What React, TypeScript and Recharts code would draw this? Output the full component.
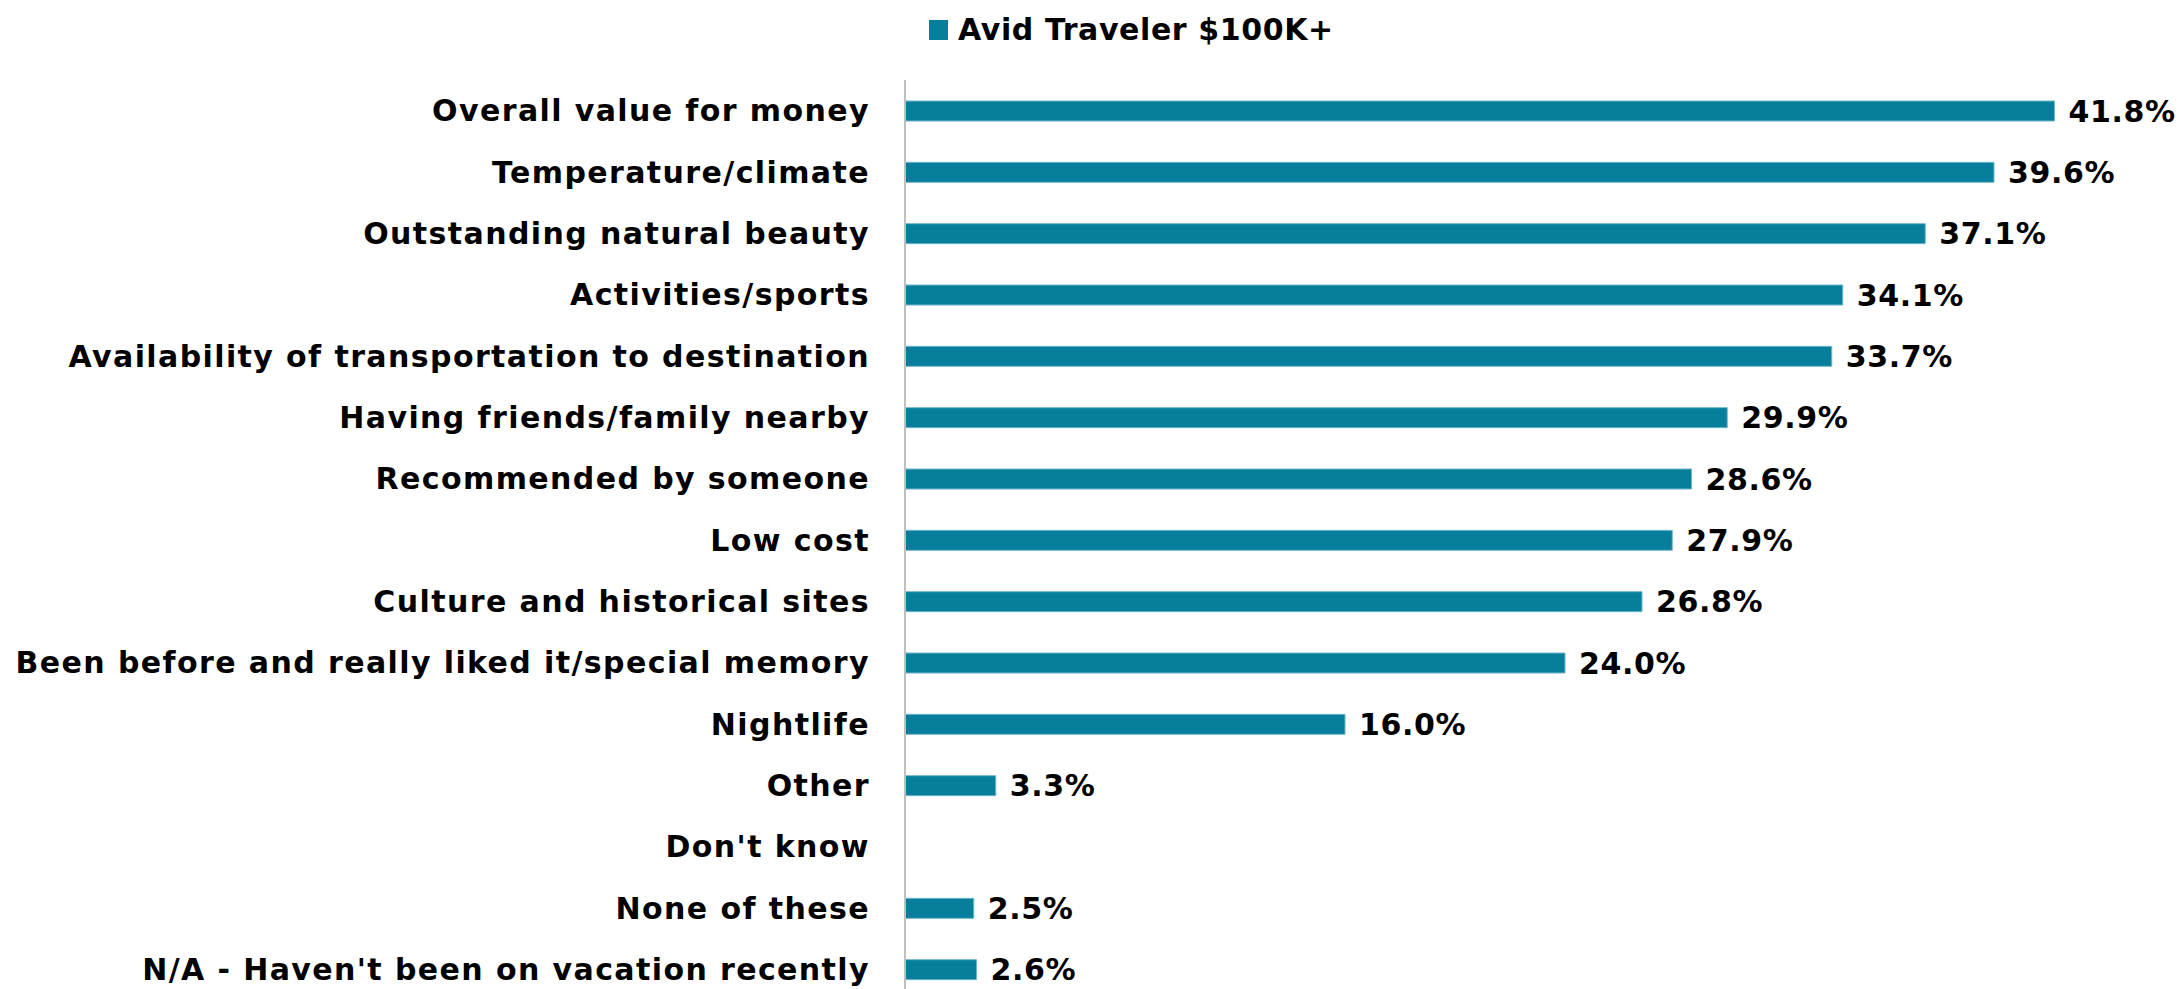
import React from 'react';
import { BarChart, Bar, XAxis, YAxis, LabelList, Legend } from 'recharts';

const categories: string[] = [
  'Overall value for money',
  'Temperature/climate',
  'Outstanding natural beauty',
  'Activities/sports',
  'Availability of transportation to destination',
  'Having friends/family nearby',
  'Recommended by someone',
  'Low cost',
  'Culture and historical sites',
  'Been before and really liked it/special memory',
  'Nightlife',
  'Other',
  "Don't know",
  'None of these',
  "N/A - Haven't been on vacation recently",
];

const values: (number | null)[] = [41.8, 39.6, 37.1, 34.1, 33.7, 29.9, 28.6, 27.9, 26.8, 24.0, 16.0, 3.3, null, 2.5, 2.6];

const seriesName = 'Avid Traveler $100K+';
const xDomain: [number, number] = [0, 45];

const data = categories.map((c, i) => ({ name: c, value: values[i] }));

const FONT = '"DejaVu Sans", sans-serif';
const BAR_COLOR = '#077f9c';
const CHART_W = 2175;
const CHART_H = 992;
const Y_AXIS_W = 897;

const CategoryTick = (props: any) => {
  const { y, payload } = props;
  return (
    <text
      x={Y_AXIS_W - 35}
      y={y}
      dy="0.36em"
      textAnchor="end"
      fontFamily={FONT}
      fontWeight="bold"
      fontSize={30}
      letterSpacing={1.4}
      fill="#000"
    >
      {payload.value}
    </text>
  );
};

const LegendContent = () => (
  <div style={{ display: 'flex', alignItems: 'center', fontFamily: FONT, fontWeight: 'bold', fontSize: 30, letterSpacing: 0.6, color: '#000', whiteSpace: 'nowrap' }}>
    <span style={{ display: 'inline-block', width: 19, height: 20, background: BAR_COLOR, marginRight: 10 }} />
    <span>{seriesName}</span>
  </div>
);

export default function App() {
  return (
    <div style={{ width: CHART_W, height: CHART_H, background: '#fff' }}>
      <BarChart
        width={CHART_W}
        height={CHART_H}
        data={data}
        layout="vertical"
        margin={{ top: 72, right: 40.5, bottom: 0, left: 0 }}
      >
        <XAxis type="number" domain={xDomain} hide allowDataOverflow />
        <YAxis
          type="category"
          dataKey="name"
          width={Y_AXIS_W}
          axisLine={{ stroke: '#bfbfbf', strokeWidth: 2 }}
          tickLine={false}
          tick={<CategoryTick />}
          interval={0}
        />
        <Legend
          layout="vertical"
          align="center"
          verticalAlign="middle"
          content={<LegendContent />}
          wrapperStyle={{ top: 4, left: 921, width: 'auto', height: 'auto', bottom: 'auto', right: 'auto' }}
        />
        <Bar
          dataKey="value"
          name={seriesName}
          fill={BAR_COLOR}
          stroke="#6fb7ca"
          strokeWidth={1}
          barSize={20}
          isAnimationActive={false}
        >
          <LabelList
            dataKey="value"
            position="right"
            offset={14}
            formatter={(v: any) => (v == null ? '' : `${Number(v).toFixed(1)}%`)}
            style={{ fontFamily: FONT, fontWeight: 'bold', fontSize: 30, letterSpacing: 0.6, fill: '#000' }}
          />
        </Bar>
      </BarChart>
    </div>
  );
}
